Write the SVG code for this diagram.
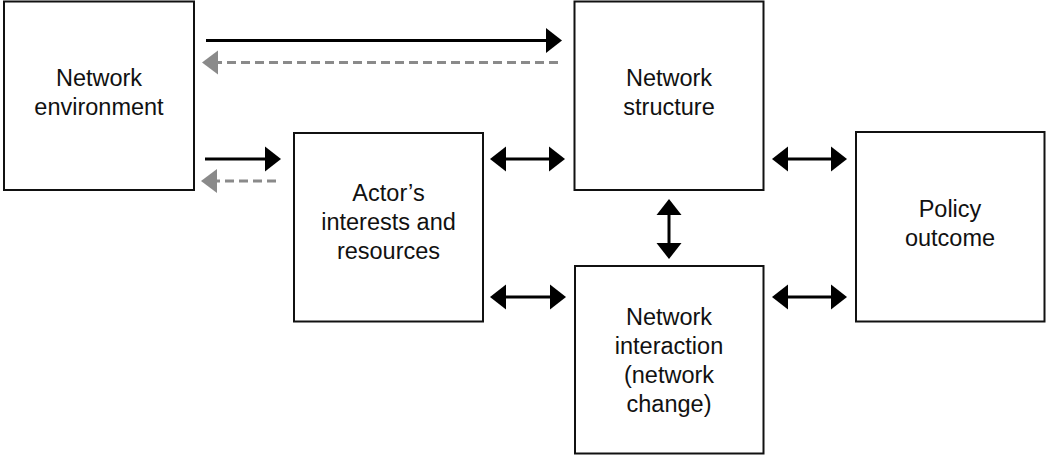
<svg xmlns="http://www.w3.org/2000/svg" width="1046" height="455" viewBox="0 0 1046 455">
  <defs>
    <style>
      .box { fill: #ffffff; stroke: #111111; stroke-width: 2; }
      .lbl { font-family: "Liberation Sans", Arial, sans-serif; font-size: 23.5px; fill: #111111; text-anchor: middle; }
      .solid { stroke: #000000; stroke-width: 3; fill: none; }
      .dash { stroke: #8a8a8a; stroke-width: 3; fill: none; stroke-dasharray: 9 5; }
    </style>
    <marker id="hb" markerUnits="userSpaceOnUse" markerWidth="16" markerHeight="26" viewBox="0 0 16 26" refX="2" refY="13" orient="auto-start-reverse">
      <path d="M0,0.5 L16,13 L0,25.5 z" fill="#000000"/>
    </marker>
    <marker id="hg" markerUnits="userSpaceOnUse" markerWidth="16" markerHeight="26" viewBox="0 0 16 26" refX="2" refY="13" orient="auto">
      <path d="M0,1 L16,13 L0,25 z" fill="#8a8a8a"/>
    </marker>
  </defs>

  <rect width="1046" height="455" fill="#ffffff"/>

  <g id="network-environment">
    <rect class="box" x="4" y="1.5" width="190" height="188.5"/>
    <text class="lbl" x="99" y="86">Network</text>
    <text class="lbl" x="99" y="115">environment</text>
  </g>

  <g id="actors-interests">
    <rect class="box" x="294" y="133" width="189" height="188.5"/>
    <text class="lbl" x="388.5" y="201">Actor’s</text>
    <text class="lbl" x="388.5" y="230">interests and</text>
    <text class="lbl" x="388.5" y="259">resources</text>
  </g>

  <g id="network-structure">
    <rect class="box" x="574.5" y="1.5" width="189" height="188.5"/>
    <text class="lbl" x="669" y="86">Network</text>
    <text class="lbl" x="669" y="115">structure</text>
  </g>

  <g id="network-interaction">
    <rect class="box" x="575" y="266" width="188.5" height="187.5"/>
    <text class="lbl" x="669" y="325">Network</text>
    <text class="lbl" x="669" y="354">interaction</text>
    <text class="lbl" x="669" y="383">(network</text>
    <text class="lbl" x="669" y="412">change)</text>
  </g>

  <g id="policy-outcome">
    <rect class="box" x="856" y="132" width="188.5" height="189.5"/>
    <text class="lbl" x="950" y="217">Policy</text>
    <text class="lbl" x="950" y="246">outcome</text>
  </g>

  <g id="connectors">
    <line class="solid" x1="206" y1="40.5" x2="548" y2="40.5" marker-end="url(#hb)"/>
    <line class="dash" x1="558" y1="62.5" x2="216" y2="62.5" marker-end="url(#hg)"/>
    <line class="solid" x1="205" y1="159" x2="267" y2="159" marker-end="url(#hb)"/>
    <line class="dash" x1="276" y1="181" x2="215" y2="181" marker-end="url(#hg)"/>
    <line class="solid" x1="504" y1="159" x2="551" y2="159" marker-start="url(#hb)" marker-end="url(#hb)"/>
    <line class="solid" x1="786" y1="159" x2="833" y2="159" marker-start="url(#hb)" marker-end="url(#hb)"/>
    <line class="solid" x1="669" y1="213" x2="669" y2="245" marker-start="url(#hb)" marker-end="url(#hb)"/>
    <line class="solid" x1="504" y1="297" x2="552" y2="297" marker-start="url(#hb)" marker-end="url(#hb)"/>
    <line class="solid" x1="786" y1="297" x2="833" y2="297" marker-start="url(#hb)" marker-end="url(#hb)"/>
  </g>
</svg>
